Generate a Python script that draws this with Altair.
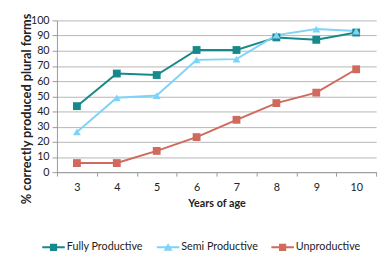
import altair as alt
import pandas as pd

ages = ["3", "4", "5", "6", "7", "8", "9", "10"]
fully = [43.5, 65, 64, 80.5, 80.5, 88.8, 87.2, 92]
semi = [26.5, 49, 50.5, 74, 74.5, 90.3, 94.3, 93]
unprod = [6, 6, 14, 23.1, 34.5, 45.5, 52.4, 67.8]
series = ["Fully Productive", "Semi Productive", "Unproductive"]
colors = ["#17898A", "#7ED3F7", "#CF6A5C"]
shapes = ["square", "triangle-up", "square"]

rows = []
for name, vals in zip(series, [fully, semi, unprod]):
    for a, v in zip(ages, vals):
        rows.append({"age": a, "value": v, "series": name})
df = pd.DataFrame(rows)

FONT = "Lato"

sq_path = "M-1,-0.09H1V0.09H-1Z M-0.32,-0.32H0.32V0.32H-0.32Z"
tri_path = "M-1,-0.09H1V0.09H-1Z M0,-0.36L0.4,0.3H-0.4Z"
legend_shapes = [sq_path, tri_path, sq_path]

legend = alt.Legend(
    orient="none", direction="horizontal", legendX=-15, legendY=220,
    title=None, symbolSize=529, labelFont=FONT, labelFontSize=11,
    labelColor="#222", columnPadding=13, labelOffset=2, gridAlign="all",
    symbolStrokeWidth=0, symbolOpacity=1,
)

color_scale = alt.Scale(domain=series, range=colors)
x_enc = alt.X("age:N", sort=ages, scale=alt.Scale(paddingInner=0, paddingOuter=0),
              axis=alt.Axis(title="Years of age", labelAngle=0, tickBand="extent", grid=False,
                            domainColor="#999", tickColor="#999", tickSize=4, labelPadding=6,
                            labelFont=FONT, labelFontSize=11, labelColor="#222",
                            titleFont=FONT, titleFontSize=11, titleFontWeight="bold",
                            titleColor="#222", titlePadding=5))
y_enc = alt.Y("value:Q", scale=alt.Scale(domain=[0, 100], nice=False),
              axis=alt.Axis(values=list(range(0, 101, 10)), title="% correctly produced plural forms",
                            gridColor="#b5b5b5", domainColor="#999", tickColor="#999", tickSize=5,
                            labelPadding=3, labelFont=FONT, labelFontSize=11, labelColor="#222",
                            titleFont=FONT, titleFontSize=13, titleFontWeight="bold",
                            titleColor="#222", titleX=-24, titleY=90, titleAlign="center",
                            titleAngle=270, titleBaseline="bottom"))

lines = alt.Chart(df).mark_line(strokeWidth=2).encode(
    x=x_enc, y=y_enc,
    color=alt.Color("series:N", scale=color_scale, legend=None),
    detail="series:N",
)
points = alt.Chart(df).mark_point(filled=True, opacity=1, size=64).encode(
    x=x_enc, y=y_enc,
    color=alt.Color("series:N", scale=color_scale, legend=None),
    shape=alt.Shape("series:N", scale=alt.Scale(domain=series, range=shapes), legend=None),
)
legend_layer = alt.Chart(df).transform_filter("datum.value < 0").mark_point(
    filled=True, opacity=1).encode(
    x=x_enc, y=y_enc,
    color=alt.Color("series:N", scale=color_scale, legend=legend),
    shape=alt.Shape("series:N", scale=alt.Scale(domain=series, range=legend_shapes), legend=legend),
)
border = alt.Chart(pd.DataFrame({"k": [0]})).mark_rule(color="#c8c8c8", strokeWidth=1, clip=False).encode(
    y=alt.value(-16), x=alt.value(-58), x2=alt.value(332))

chart = alt.layer(border, lines, points, legend_layer).resolve_scale(
    color="independent", shape="independent"
).properties(
    width=326, height=155,
    autosize=alt.AutoSizeParams(type="none"),
    padding={"left": 50, "top": 10, "right": 6, "bottom": 85},
).configure_view(stroke=None)

chart.save("out.html", embed_options={"renderer": "svg", "actions": False})
